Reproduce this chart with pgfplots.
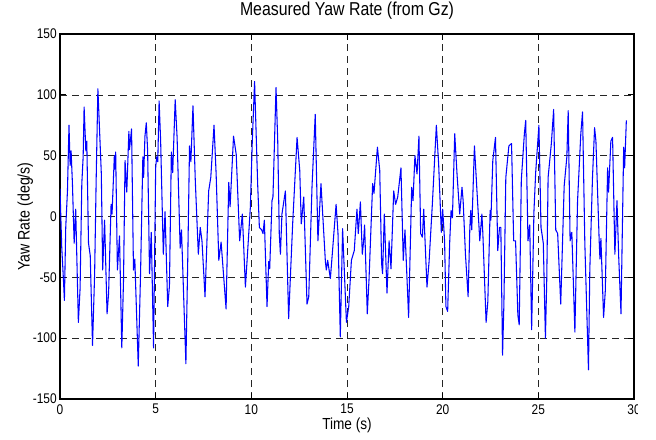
\documentclass[border=0pt]{standalone}
\usepackage{fontspec}
\setmainfont{Liberation Sans}[FakeStretch=0.85]
\usepackage{pgfplots}
\pgfplotsset{compat=1.18}
\begin{document}
\begin{tikzpicture}
\begin{axis}[
  name=ax,
  scale only axis,
  width=430.5pt, height=273.75pt,
  xmin=0, xmax=30, ymin=-150, ymax=150,
  xtick={0,5,...,30}, ytick={-150,-100,...,150},
  /pgf/number format/assume math mode=true,
  tick align=inside,
  major tick length=4.5pt,
  tick style={black, line width=0.6pt},
  axis line style={black, line width=0.8pt},
  grid=major,
  major grid style={black!85, line width=0.5pt, dash pattern=on 5.25pt off 3.75pt},
  ticklabel style={font=\fontsize{10.5}{12}\selectfont},
  xticklabel style={inner sep=0pt, yshift=-3.75pt},
  yticklabel style={inner sep=0pt, xshift=-2.25pt},
  title={Measured Yaw Rate (from Gz)},
  title style={at={(axis description cs:0.5,1)}, anchor=south, inner sep=0pt, yshift=4.5pt, font=\fontsize{14}{16}\selectfont},
  xlabel={Time (s)},
  xlabel style={at={([yshift=-19.9pt]axis description cs:0.5,0)}, anchor=center, inner sep=0pt, font=\fontsize{12}{14}\selectfont},
  ylabel={Yaw Rate (deg/s)},
  ylabel style={at={([xshift=-26pt]axis description cs:0,0.5)}, anchor=center, rotate=0, inner sep=0pt, font=\fontsize{12.5}{14}\selectfont},
]
\addplot[blue, line width=0.8pt, line join=round] coordinates {
(0.00,23) (0.09,-25) (0.18,-52) (0.23,-69) (0.30,-9) (0.39,21) (0.47,75) (0.53,42) (0.58,54) (0.65,27)
(0.74,-22) (0.82,6) (0.96,-87) (1.05,-59) (1.14,27) (1.21,49) (1.26,90) (1.35,54) (1.40,62) (1.49,-22)
(1.58,-32) (1.70,-106) (1.81,-47) (1.89,30) (1.98,105) (2.16,35) (2.23,-44) (2.33,-3) (2.46,-80) (2.54,-63)
(2.67,10) (2.72,2) (2.84,50) (2.86,39) (2.91,53) (3.00,-44) (3.11,-16) (3.23,-108) (3.32,-52) (3.40,46)
(3.49,20) (3.60,70) (3.63,55) (3.74,72) (3.84,-44) (3.91,-35) (4.09,-123) (4.21,-47) (4.33,49) (4.37,32)
(4.44,66) (4.51,77) (4.58,54) (4.68,-47) (4.77,-13) (4.89,-108) (5.00,40) (5.05,49) (5.11,45) (5.18,95)
(5.26,62) (5.40,-31) (5.49,4) (5.63,-74) (5.72,-57) (5.82,53) (5.89,36) (6.02,96) (6.12,65) (6.28,-26)
(6.35,-11) (6.47,-69) (6.58,-121) (6.68,-33) (6.77,58) (6.84,45) (6.95,91) (7.07,30) (7.23,-31) (7.33,-9)
(7.42,-20) (7.58,-66) (7.77,21) (7.88,32) (8.05,75) (8.16,35) (8.30,-36) (8.42,-21) (8.68,-76) (8.82,28)
(8.89,8) (9.07,66) (9.21,51) (9.39,-20) (9.53,2) (9.69,-58) (9.81,-28) (9.95,8) (10.05,62) (10.17,111)
(10.33,27) (10.42,-9) (10.54,-11) (10.61,-14) (10.68,-3) (10.82,-74) (10.91,-37) (10.96,-43) (11.08,13) (11.13,16)
(11.29,106) (11.38,62) (11.46,-14) (11.52,-31) (11.60,2) (11.78,21) (11.95,-84) (12.04,-50) (12.16,-6) (12.39,65)
(12.53,38) (12.61,-6) (12.74,16) (12.91,-72) (13.00,-66) (13.17,24) (13.34,84) (13.48,-20) (13.64,27) (13.87,-37)
(13.92,-44) (13.99,-36) (14.13,-51) (14.23,-31) (14.43,10) (14.53,-14) (14.65,-99) (14.77,-10) (14.97,-87) (15.09,-74)
(15.23,-36) (15.38,-28) (15.52,6) (15.59,-14) (15.70,12) (15.80,-31) (15.87,-20) (15.92,-7) (16.06,-80) (16.15,-52)
(16.34,27) (16.41,19) (16.59,57) (16.71,38) (16.81,-39) (16.86,-47) (16.95,2) (17.09,-63) (17.20,-20) (17.30,-43)
(17.44,21) (17.54,10) (17.65,16) (17.82,40) (17.94,-36) (18.03,-11) (18.22,-83) (18.38,24) (18.45,13) (18.55,50)
(18.66,35) (18.76,66) (18.85,-14) (18.94,-17) (19.01,6) (19.18,-58) (19.29,-37) (19.46,10) (19.67,75) (19.79,43)
(19.93,-13) (20.00,6) (20.10,-20) (20.17,-74) (20.26,-78) (20.37,-20) (20.44,5) (20.51,-1) (20.63,68) (20.75,35)
(20.89,2) (21.01,24) (21.07,13) (21.19,-31) (21.33,-66) (21.42,-9) (21.47,5) (21.52,-11) (21.66,58) (21.80,19)
(21.94,-20) (22.05,2) (22.10,-14) (22.27,-87) (22.36,-70) (22.48,5) (22.52,-3) (22.62,46) (22.76,65) (22.88,-28)
(22.97,-9) (23.04,-9) (23.13,-114) (23.20,-72) (23.30,32) (23.46,58) (23.60,60) (23.71,-20) (23.81,-20) (23.93,-81)
(24.00,-89) (24.11,30) (24.27,68) (24.34,79) (24.46,-20) (24.55,-7) (24.65,-93) (24.77,4) (24.86,36) (25.03,75)
(25.14,-9) (25.26,-22) (25.37,-100) (25.44,-52) (25.51,32) (25.68,60) (25.80,88) (25.91,-11) (26.01,-14) (26.17,-72)
(26.35,25) (26.49,49) (26.56,87) (26.66,-20) (26.75,-13) (26.91,-95) (27.05,13) (27.22,68) (27.31,86) (27.43,-22)
(27.62,-126) (27.69,-44) (27.83,32) (27.94,73) (28.01,62) (28.18,-20) (28.22,-35) (28.27,-18) (28.41,-83) (28.50,-61)
(28.62,40) (28.67,20) (28.79,62) (28.88,65) (29.00,-31) (29.11,13) (29.20,-33) (29.32,-80) (29.41,8) (29.46,57)
(29.51,40) (29.60,79)
};
\end{axis}
\fill[white] ([xshift=3.3pt,yshift=-16pt]ax.south east) rectangle ([xshift=20pt,yshift=-1pt]ax.south east);
\pgfresetboundingbox
\path[use as bounding box] ([xshift=-45pt,yshift=-30pt]ax.south west) rectangle ([xshift=16.5pt,yshift=25.5pt]ax.north east);
\end{tikzpicture}
\end{document}
